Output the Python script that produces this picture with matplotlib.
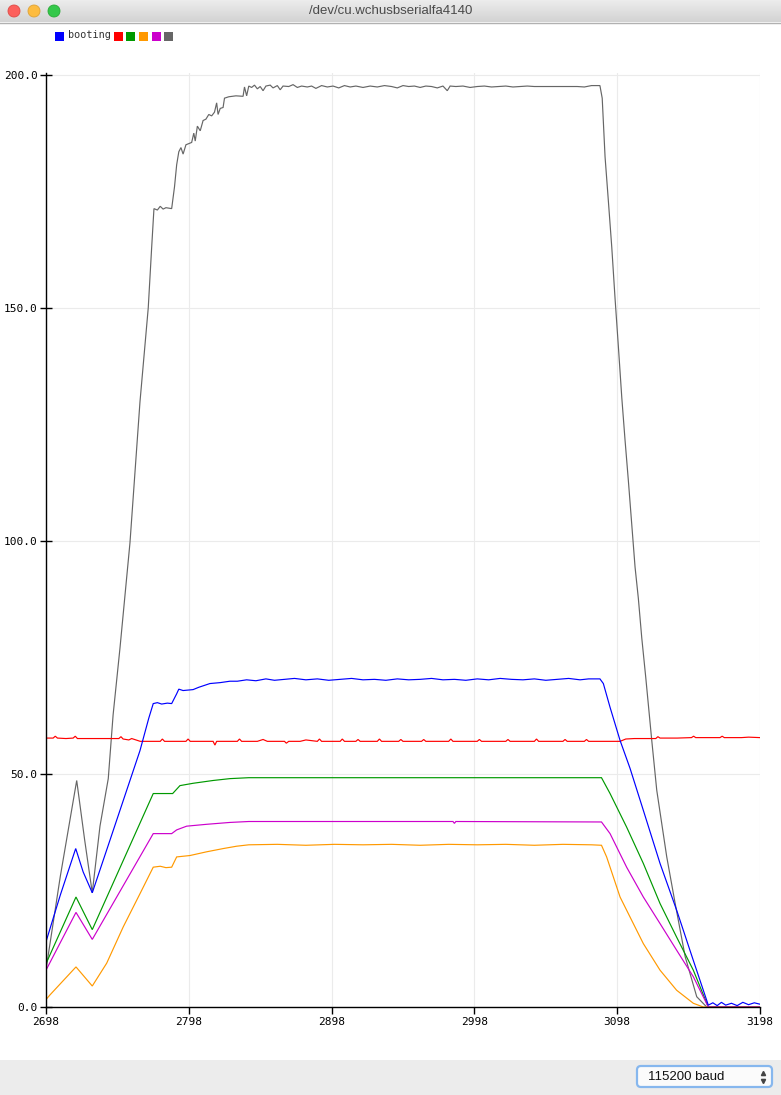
#! /usr/bin/env python3
# Arduino serial plotter capture: six channels while "booting"

import numpy as np
import matplotlib
matplotlib.use('Agg')
import matplotlib.pyplot as plt
from matplotlib.patches import Rectangle, Circle, FancyBboxPatch

#########################################################
# Data
#########################################################
WINDOW_TITLE = '/dev/cu.wchusbserialfa4140'
LEGEND_LABELS = ['booting', '', '', '', '', '']
SERIES_COLORS = ['#0000ff', '#ff0000', '#009900', '#ff9900', '#cc00cc', '#666666']
BAUD_TEXT = '115200 baud'

x_ticks = [2698, 2798, 2898, 2998, 3098, 3198]
y_ticks = [0.0, 50.0, 100.0, 150.0, 200.0]

gray_x = [2698, 2708, 2719.5, 2725, 2730.4, 2735.8, 2741.6, 2745, 2749.8, 2756.8,
          2763.8, 2769.6, 2772, 2773.6, 2776, 2778, 2780, 2782, 2786, 2788,
          2789.5, 2791, 2792.5, 2794, 2796, 2800, 2801.5, 2802.5, 2804, 2806,
          2808, 2810, 2812, 2814, 2816, 2817.5, 2818.5, 2820, 2822, 2823,
          2826, 2831, 2836, 2837, 2838.5, 2840, 2842, 2844, 2846, 2848,
          2850, 2852, 2855, 2857, 2860, 2862, 2864, 2868, 2871, 2874,
          2877, 2881, 2884, 2887, 2891, 2895, 2899, 2903, 2907, 2911,
          2915, 2920, 2925, 2930, 2935, 2940, 2944, 2948, 2952, 2956,
          2960, 2964, 2968, 2972, 2976, 2979, 2981, 2985, 2990, 2995,
          3000, 3005, 3010, 3015, 3020, 3025, 3030, 3035, 3040, 3050,
          3060, 3070, 3075, 3080, 3085.9, 3087.5, 3089.5, 3091.8, 3094.2, 3096.5,
          3098.8, 3101.2, 3103.5, 3105.8, 3108.1, 3110.5, 3112.8, 3115.2, 3118, 3122.2,
          3125.7, 3132.7, 3138.6, 3145.6, 3153.7, 3160.7, 3198]
gray_y = [8, 28, 48.6, 36, 24.5, 38.8, 49, 62.7, 77, 99.6,
          129.8, 150, 163, 171.3, 171.0, 171.8, 171.2, 171.5, 171.3, 176,
          180.7, 183.5, 184.4, 183, 185, 185.5, 187.5, 185.8, 189, 188,
          190.2, 190.5, 191.5, 191.2, 192, 194, 191.5, 192.8, 193, 195,
          195.3, 195.5, 195.4, 197.4, 195.5, 197.6, 197.3, 197.8, 197.0, 197.5,
          196.6, 197.6, 197.8, 197.2, 197.7, 196.8, 197.6, 197.5, 197.9, 197.3,
          197.6, 197.4, 197.6, 197.1, 197.7, 197.4, 197.6, 197.2, 197.7, 197.4,
          197.6, 197.3, 197.6, 197.4, 197.7, 197.5, 197.2, 197.7, 197.5, 197.6,
          197.3, 197.6, 197.5, 197.2, 197.6, 196.6, 197.6, 197.5, 197.6, 197.3,
          197.5, 197.6, 197.4, 197.5, 197.6, 197.4, 197.5, 197.6, 197.5, 197.5,
          197.5, 197.5, 197.4, 197.7, 197.7, 195, 182.4, 173, 163, 152,
          141.8, 130.8, 121.6, 113, 103.9, 94.4, 87.7, 79.2, 70.7, 57.2,
          46.5, 32.2, 22.2, 10.8, 2.2, 0, 0]

blue_x = [2698, 2708, 2718.8, 2724, 2730.4, 2742.8, 2763.8, 2770, 2773.1, 2776,
          2779, 2783, 2786, 2789.5, 2791, 2794, 2801, 2805, 2812.8, 2820,
          2826.8, 2832, 2838.5, 2845, 2852, 2858, 2865, 2872, 2880, 2888,
          2896, 2904, 2912, 2920, 2928, 2936, 2944, 2952, 2960, 2968,
          2976, 2984, 2992, 3000, 3008, 3016, 3024, 3032, 3040, 3048,
          3056, 3064, 3072, 3078, 3085.9, 3088.3, 3093, 3100, 3107, 3116.3,
          3128, 3139.6, 3151.3, 3161.8, 3165, 3168, 3171, 3174, 3178, 3182,
          3186, 3190, 3194, 3198]
blue_y = [14, 24, 34, 29, 24.5, 35.8, 55, 62, 65.1, 65.3,
          65.0, 65.2, 65.1, 67.2, 68.2, 67.9, 68.1, 68.6, 69.4, 69.6,
          69.9, 69.9, 70.2, 70.0, 70.4, 70.1, 70.3, 70.5, 70.2, 70.4,
          70.1, 70.3, 70.5, 70.2, 70.3, 70.1, 70.4, 70.2, 70.3, 70.5,
          70.2, 70.3, 70.1, 70.4, 70.2, 70.5, 70.3, 70.2, 70.4, 70.1,
          70.3, 70.5, 70.2, 70.4, 70.4, 69.4, 64.3, 57.2, 51.2, 42.2,
          30.8, 20.8, 10.0, 0.4, 0.9, 0.3, 1.0, 0.4, 0.8, 0.3,
          1.0, 0.5, 0.9, 0.6]

red_x = [2698, 2703, 2704.5, 2706, 2712, 2717, 2718.5, 2720, 2726, 2734,
         2740, 2745, 2749, 2750.5, 2752, 2756, 2758, 2762, 2764, 2770,
         2778, 2779.5, 2781, 2790, 2796, 2797.5, 2799, 2808, 2815, 2816.3, 2817.5,
         2826, 2832, 2833.5, 2835, 2846, 2850, 2853, 2860, 2865, 2866.3,
         2868, 2876, 2880, 2888, 2889.5, 2891, 2904, 2905.5, 2907, 2915,
         2916.5, 2918, 2930, 2931.5, 2933, 2945, 2946.5, 2948, 2958, 2961,
         2962.5, 2964, 2980, 2981.5, 2983, 3000, 3001.5, 3003, 3020, 3021.5,
         3023, 3040, 3041.5, 3043, 3060, 3061.5, 3063, 3075, 3076.5, 3078,
         3095, 3100, 3104, 3110, 3125, 3126.5, 3128, 3140, 3150, 3151.5,
         3153, 3165, 3170, 3171.5, 3173, 3185, 3190, 3198]
red_y = [57.7, 57.7, 58.1, 57.7, 57.6, 57.7, 58.1, 57.6, 57.6, 57.6,
         57.6, 57.6, 57.6, 58.0, 57.5, 57.3, 57.6, 57.2, 57.0, 57.0,
         57.0, 57.5, 57.0, 57.0, 57.0, 57.5, 57.0, 57.0, 57.0, 56.2, 57.0,
         57.0, 57.0, 57.5, 57.0, 57.0, 57.4, 57.0, 57.0, 57.0, 56.6,
         57.0, 57.0, 57.3, 57.0, 57.5, 57.0, 57.0, 57.5, 57.0, 57.0,
         57.4, 57.0, 57.0, 57.5, 57.0, 57.0, 57.4, 57.0, 57.0, 57.0,
         57.4, 57.0, 57.0, 57.5, 57.0, 57.0, 57.4, 57.0, 57.0, 57.4,
         57.0, 57.0, 57.5, 57.0, 57.0, 57.4, 57.0, 57.0, 57.4, 57.0,
         57.0, 57.0, 57.5, 57.6, 57.6, 58.0, 57.7, 57.7, 57.8, 58.1,
         57.8, 57.8, 57.8, 58.1, 57.8, 57.8, 57.9, 57.8]

green_x = [2698, 2719, 2730.4, 2773.1, 2786.7, 2791.8, 2801, 2815, 2826.8, 2840,
           3087, 3093, 3104.6, 3116.3, 3128, 3139.6, 3151.3, 3161.8, 3198]
green_y = [9.3, 23.6, 16.6, 45.8, 45.8, 47.5, 48.0, 48.6, 49.0, 49.2,
           49.2, 45.8, 38.6, 30.8, 22.2, 15.0, 7.9, 0.0, 0.0]

magenta_x = [2698, 2719, 2730.4, 2773.1, 2786, 2789.5, 2796.5, 2810.5, 2826.8, 2840,
             2983, 2984, 2985, 3087, 3093, 3104.6, 3116.3, 3128, 3139.6, 3151.3,
             3161.8, 3198]
magenta_y = [7.9, 20.3, 14.5, 37.2, 37.2, 38.0, 38.8, 39.2, 39.6, 39.8,
             39.8, 39.4, 39.8, 39.7, 37.2, 30.0, 23.6, 17.9, 12.2, 6.5,
             0.0, 0.0]

orange_x = [2698, 2700.8, 2719, 2730.4, 2740.5, 2752.1, 2763.8, 2773.1, 2778, 2782,
            2786, 2789.5, 2798.8, 2810.5, 2822.2, 2831.5, 2840, 2860, 2880, 2900,
            2920, 2940, 2960, 2980, 3000, 3020, 3040, 3060, 3080, 3087,
            3090.6, 3095.3, 3100, 3107, 3116.3, 3128, 3139.6, 3151.3, 3158.3, 3198]
orange_y = [1.6, 2.6, 8.6, 4.5, 9.4, 17.2, 24.3, 30.0, 30.2, 29.9,
            30.0, 32.2, 32.5, 33.3, 34.0, 34.5, 34.8, 34.9, 34.7, 34.9,
            34.8, 34.9, 34.7, 34.9, 34.8, 34.9, 34.7, 34.9, 34.8, 34.7,
            32.2, 27.9, 23.6, 19.3, 13.6, 7.9, 3.6, 0.8, 0.0, 0.0]

#########################################################
# Figure
#########################################################
W, H = 781, 1095
fig = plt.figure(figsize=(W / 100, H / 100), dpi=100, facecolor='white')
mono = 'DejaVu Sans Mono'

ax = fig.add_axes([46 / W, (H - 1007) / H, (760 - 46) / W, (1007 - 73) / H])
series = [(blue_x, blue_y), (red_x, red_y), (green_x, green_y),
          (orange_x, orange_y), (magenta_x, magenta_y), (gray_x, gray_y)]
# drawing order roughly like the plotter: gray underneath the others
order = [5, 1, 2, 3, 4, 0]
for i in order:
    xs, ys = series[i]
    ax.plot(xs, ys, color=SERIES_COLORS[i], lw=0.85, solid_joinstyle='miter')

ax.set_xlim(2698, 3198)
ax.set_ylim(0, 200.4)
ax.set_xticks(x_ticks)
ax.set_xticklabels([str(t) for t in x_ticks], fontfamily=mono, fontsize=8)
ax.set_yticks(y_ticks)
ax.set_yticklabels(['%.1f' % t for t in y_ticks], fontfamily=mono, fontsize=8)
ax.grid(True, color='#ebebeb', lw=0.8)
ax.set_axisbelow(True)
for s in ['top', 'right']:
    ax.spines[s].set_visible(False)
for s in ['left', 'bottom']:
    ax.spines[s].set_color('black')
    ax.spines[s].set_linewidth(1.0)
ax.tick_params(axis='y', direction='inout', length=8, width=1, pad=2)
ax.tick_params(axis='x', direction='out', length=5, width=1, pad=2)

#########################################################
# Window chrome (pixel coordinates)
#########################################################
deco = fig.add_axes([0, 0, 1, 1], zorder=10)
deco.patch.set_alpha(0)
deco.axis('off')

grad = np.linspace(0, 1, 22).reshape(-1, 1)
deco.imshow(grad, cmap=matplotlib.colors.LinearSegmentedColormap.from_list(
    'bar', ['#ececec', '#d3d3d3']), extent=(0, W, 22, 0), aspect='auto')
deco.plot([0, W], [22.5, 22.5], color='#b1b1b1', lw=1)
for cx, fc, ec in [(14, '#fc605c', '#de4a45'), (34, '#fdbc40', '#dea236'),
                   (54, '#34c84a', '#27aa35')]:
    deco.add_patch(Circle((cx, 11), 6, facecolor=fc, edgecolor=ec, lw=0.6))
deco.text(W / 2, 11.5, WINDOW_TITLE, ha='center', va='center', fontsize=9.5,
          family='Liberation Sans', color='#4a4a4a')

# legend
lx = 55
for i, lab in enumerate(LEGEND_LABELS):
    deco.add_patch(Rectangle((lx, 32), 9, 9, facecolor=SERIES_COLORS[i], edgecolor='none'))
    lx += 12.7
    if lab:
        deco.text(lx, 35, lab, ha='left', va='center', fontsize=7.3, family=mono, color='#333333')
        lx += 46

# bottom bar with baud selector
deco.add_patch(Rectangle((0, 1060), W, 35, facecolor='#ececec', edgecolor='none'))
deco.add_patch(FancyBboxPatch((637, 1066), 135, 21, boxstyle='round,pad=0,rounding_size=4',
                              facecolor='#fbfbfb', edgecolor='#86b7ee', lw=1.6))
deco.text(648, 1077, BAUD_TEXT, ha='left', va='center', fontsize=9.5,
          family='Liberation Sans', color='#111111')
deco.plot([763], [1073], marker='^', ms=3, color='#444444', ls='none')
deco.plot([763], [1081], marker='v', ms=3, color='#444444', ls='none')

deco.set_xlim(0, W)
deco.set_ylim(H, 0)

fig.savefig('out.png', dpi=100)
